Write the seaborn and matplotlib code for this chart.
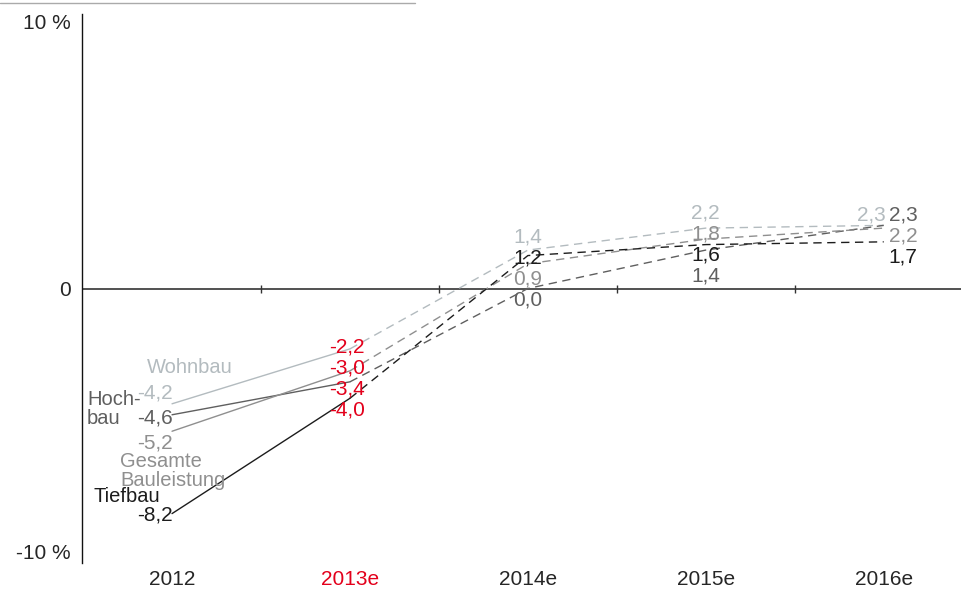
import numpy as np
import pandas as pd
import seaborn as sns
import matplotlib.pyplot as plt
from matplotlib.lines import Line2D
from matplotlib.transforms import offset_copy

years = ["2012", "2013e", "2014e", "2015e", "2016e"]
wohnbau = [-4.2, -2.2, 1.4, 2.2, 2.3]
hochbau = [-4.6, -3.4, 0.0, 1.4, 2.3]
gesamt = [-5.2, -3.0, 0.9, 1.8, 2.2]
tiefbau = [-8.2, -4.0, 1.2, 1.6, 1.7]

series = ["Wohnbau", "Hochbau", "Gesamte Bauleistung", "Tiefbau"]
values = [wohnbau, hochbau, gesamt, tiefbau]
names = ["Wohnbau", "Hoch-\nbau", "Gesamte\nBauleistung", "Tiefbau"]
colors = ["#b3bbbf", "#5f5f5f", "#8f8f8f", "#1c1c1c"]
red = "#e3001b"

rows = []
for s, v in zip(series, values):
    for i, y in enumerate(v):
        rows.append({"series": s, "x": i, "value": y})
df = pd.DataFrame(rows)

sns.set_style("white")
plt.rcParams["font.family"] = ["Liberation Sans", "DejaVu Sans"]
FS = 15

fig = plt.figure(figsize=(9.62, 5.91), dpi=100)
ax = fig.add_axes([82 / 962, 28 / 591, 880 / 962, 549 / 591])
pal = dict(zip(series, colors))

# actual 2012 -> 2013e solid, forecast dashed
sns.lineplot(data=df[df.x <= 1], x="x", y="value", hue="series", palette=pal,
             estimator=None, sort=False, lw=1.0, legend=False, ax=ax)
sns.lineplot(data=df[df.x >= 1], x="x", y="value", hue="series", palette=pal,
             estimator=None, sort=False, lw=1.0, legend=False, ax=ax)
for ln in ax.lines[len(series):]:
    ln.set_dashes([6, 4])

ax.set_xlim(-0.506, 4.44)
ax.set_ylim(-10, 10)
ax.axhline(0, color="#333333", lw=1.2, zorder=1)
ax.plot(np.arange(len(years) - 1) + 0.5, np.zeros(len(years) - 1), ls="none",
        marker="|", ms=6, mew=1, color="#333333")

for sp in ["top", "right", "bottom"]:
    ax.spines[sp].set_visible(False)
ax.spines["left"].set_color("#111111")
ax.spines["left"].set_linewidth(1.0)

ax.set_xticks(range(len(years)))
ax.set_xticklabels(years, fontsize=FS)
ax.get_xticklabels()[1].set_color(red)
ax.set_yticks([-10, 0, 10])
ax.set_yticklabels(["-10 %", "0", "10 %"], fontsize=FS)
ax.tick_params(axis="x", length=0, pad=5)
ax.tick_params(axis="y", length=0, pad=8)
ylab = ax.get_yticklabels()
ylab[0].set_va("bottom")
ylab[2].set_va("top")
ax.set_xlabel("")
ax.set_ylabel("")


def px(dx, dy):
    return offset_copy(ax.transData, fig=fig, x=dx, y=-dy, units="dots")


def spread(pts, gap):
    # group overlapping labels and centre each group on its points
    groups = [[p] for p in pts]
    while True:
        pos = []
        for g in groups:
            top = np.mean(g) - (len(g) - 1) * gap / 2
            pos.append(top)
        merged = False
        for j in range(len(groups) - 1):
            if pos[j] + (len(groups[j]) - 1) * gap + gap > pos[j + 1]:
                groups[j] = groups[j] + groups.pop(j + 1)
                merged = True
                break
        if not merged:
            break
    out = []
    for g, top in zip(groups, pos):
        out += [top + n * gap for n in range(len(g))]
    return out


fmt = lambda v: f"{v:.1f}".replace(".", ",")
to_px = lambda v: v * 549 / 20

for i in range(len(years)):
    vals = [v[i] for v in values]
    idx = [k for k in np.argsort(vals, kind="stable")[::-1] if not (i == 4 and k == 0)]
    ys = [-to_px(vals[k]) for k in idx]
    lab = spread(ys, 25 if i == 0 else 21)
    base = 1 if i == 0 else 4
    for k, y0, ly in zip(idx, ys, lab):
        dy = ly - y0 + base
        c = red if i == 1 else colors[k]
        if i == 0:
            ax.text(i, vals[k], fmt(vals[k]), transform=px(1, dy), ha="right",
                    va="center", fontsize=FS, color=c)
        elif i == 4:
            ax.text(i, vals[k], fmt(vals[k]), transform=px(5, dy), ha="left",
                    va="center", fontsize=FS, color=c)
        else:
            ax.text(i, vals[k], fmt(vals[k]), transform=px(-3 if i == 1 else 0, dy),
                    ha="center", va="center", fontsize=FS, color=c)
    if i == 4:
        ax.text(i, wohnbau[i], fmt(wohnbau[i]), transform=px(2, lab[0] - ys[0] + base),
                ha="right", va="center", fontsize=FS, color=colors[0])

name_off = [(18, -36, "center"), (-85, -6, "left"), (-52, 40, "left"), (-79, -17, "left")]
for k, (nm, (dx, dy, ha)) in enumerate(zip(names, name_off)):
    ax.text(0, values[k][0], nm, transform=px(dx, dy), ha=ha, va="center",
            fontsize=14.5, color=colors[k], linespacing=1.0)

fig.add_artist(Line2D([0, 415 / 962], [1 - 3 / 591, 1 - 3 / 591],
                      transform=fig.transFigure, color="#aaaaaa", lw=1))

fig.savefig("out.png", dpi=100)
